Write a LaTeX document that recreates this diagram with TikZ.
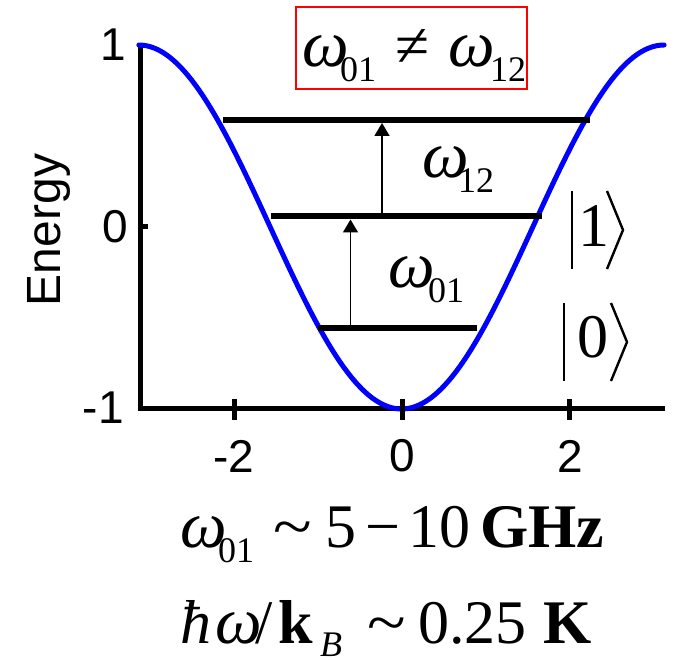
\documentclass[tikz,border=0pt]{standalone}
\usepackage{fontspec}
\setmainfont{Liberation Serif}
\newfontfamily\axisfont{Liberation Sans}
\usetikzlibrary{arrows.meta}
\newcommand{\sbs}[1]{\raisebox{-15pt}{\fontsize{36pt}{36pt}\selectfont\upshape\mdseries #1}}
\newcommand{\omg}{{\fontsize{66pt}{66pt}\selectfont\itshape ω}}
\newcommand{\gl}[2]{\makebox[#1][l]{#2}}
\newcommand{\tld}{\scalebox{1.15}[1]{\textasciitilde}}
\begin{document}
\begin{tikzpicture}[x=1pt,y=-1pt,
  level/.style={line width=6pt},
  axisline/.style={line width=5pt},
  trans/.style={line width=1.5pt,-{Triangle[width=15pt,length=13pt]}},
  ticklbl/.style={font=\axisfont\fontsize{46pt}{46pt}\selectfont,inner sep=0pt},
  bigtxt/.style={font=\fontsize{62pt}{62pt}\selectfont,inner sep=0pt},
  ketline/.style={line width=2.4pt}]
\useasboundingbox (0,0) rectangle (678,660);
% axes
\coordinate (ytop) at (140,45);
\coordinate (orig) at (140,409);
\coordinate (xend) at (665,409);
\draw[axisline] (ytop) -- (orig) -- (xend);
% potential curve
\draw[blue,line width=5pt,line cap=round] plot[domain=-3.14159:3.14159,samples=140,smooth]
  ({401.5+83.6*\x},{227+182*cos(\x r)});
% ticks
\coordinate (t0y) at (140,227);
\coordinate (t0ye) at (148,227);
\draw[axisline] (t0y) -- (t0ye);
\foreach \n/\xx in {m2/234,z/402,p2/569}{
  \coordinate (tk\n a) at (\xx,399);
  \coordinate (tk\n b) at (\xx,420);
  \draw[axisline] (tk\n a) -- (tk\n b);
}
% tick labels
\node[ticklbl,anchor=east] (y1) at (126,45) {1};
\node[ticklbl,anchor=east] (y0) at (128,227) {0};
\node[ticklbl,anchor=east] (ym1) at (124,408) {-1};
\node[ticklbl] (xm2) at (234,456) {-2};
\node[ticklbl] (x0) at (402,456) {0};
\node[ticklbl] (x2) at (570,456) {2};
\node[font=\axisfont\fontsize{48pt}{48pt}\selectfont,inner sep=0pt,rotate=90,anchor=base] (elab) at (60,230) {Energy};
% energy levels
\coordinate (L0a) at (318,328); \coordinate (L0b) at (477,328);
\coordinate (L1a) at (271,216.5); \coordinate (L1b) at (542,216.5);
\coordinate (L2a) at (223,120); \coordinate (L2b) at (590,120);
\draw[level] (L0a) -- (L0b);
\draw[level] (L1a) -- (L1b);
\draw[level] (L2a) -- (L2b);
% transitions
\coordinate (A1s) at (350.5,328); \coordinate (A1e) at (350.5,219.5);
\coordinate (A2s) at (382,216.5); \coordinate (A2e) at (382,123);
\draw[trans] (A1s) -- (A1e);
\draw[trans] (A2s) -- (A2e);
% labels
\node[bigtxt,anchor=base west] (w01) at (388,288) {\gl{40pt}{\omg}\sbs{01}};
\node[bigtxt,anchor=base west] (w12) at (422,178) {\gl{36pt}{\omg}\sbs{12}};
\node[bigtxt,draw=red,line width=1.5pt,minimum width=231pt,text height=60pt,text depth=22pt] (neq) at (411.5,48)
  {\gl{38pt}{\omg}\gl{55pt}{\sbs{01}}\gl{53pt}{≠}\gl{42pt}{\omg}\gl{31pt}{\sbs{12}}};
% kets
\node[bigtxt,anchor=base] (k1) at (593.5,247) {1};
\node[bigtxt,anchor=base] (k0) at (592.5,358) {0};
\draw[ketline] (572,191) -- (572,269);
\draw[ketline] (607,191) -- (623,230) -- (607,269);
\draw[ketline] (564,303) -- (564,381);
\draw[ketline] (611,303) -- (627,342) -- (611,381);
% bottom formulas
\node[bigtxt,anchor=base west] (f1) at (180,547)
  {\gl{38pt}{\omg}\gl{55pt}{\sbs{01}}\gl{52pt}{\tld}\gl{40pt}{5}\gl{43pt}{−}\gl{72pt}{10}\textbf{GHz}};
\node[bigtxt,anchor=base west] (f2) at (180,643)
  {\gl{35pt}{\textit{ħ}}\gl{40pt}{\omg}\gl{23pt}{/}\gl{42pt}{\textbf{k}}\gl{47pt}{\raisebox{-13pt}{\fontsize{36pt}{36pt}\selectfont\itshape B}}\gl{51pt}{\tld}\gl{125pt}{0.25}\textbf{K}};
\end{tikzpicture}
\end{document}
